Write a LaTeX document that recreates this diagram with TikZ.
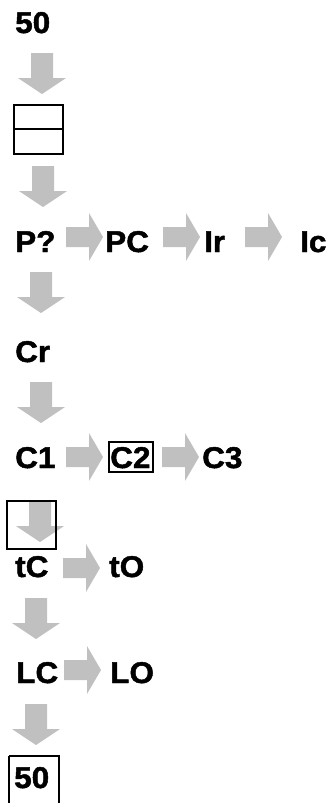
\documentclass[tikz,border=0pt]{standalone}
\usepackage{fontspec}
\setmainfont{Liberation Sans}[BoldFeatures={FakeStretch=1.05,FakeBold=1.6}]
\definecolor{arrowgray}{RGB}{192,192,192}
\tikzset{
  lbl/.style={anchor=base west, inner sep=0pt, font=\fontsize{30}{30}\selectfont\bfseries},
  framebox/.style={draw=black, line width=1.3pt},
  pics/downblock/.style={code={
    \fill[arrowgray] (-11,0) -- (11,0) -- (11,25) -- (24,25) -- (0,41)
      -- (-24,25) -- (-11,25) -- cycle;}},
  pics/rightblock/.style={code={
    \fill[arrowgray] (0,-10) -- (23,-10) -- (23,-24) -- (37,0) -- (23,24)
      -- (23,10) -- (0,10) -- cycle;}},
}
\begin{document}
\begin{tikzpicture}[x=1pt,y=-1pt]
\useasboundingbox (0,0) rectangle (329,803);

% start value
\node[lbl] (top50) at (15,33) {50};
\pic (d1) at (42,53) {downblock};

% two-cell box
\draw[framebox] (14,105) rectangle (63,154);
\draw[framebox] (14,129) -- (63,129);
\pic (d2) at (43,166) {downblock};

% first row
\node[lbl] (pq) at (15,252) {P?};
\pic (r1) at (66,237) {rightblock};
\node[lbl] (pc) at (105,252) {PC};
\pic (r2) at (163,237) {rightblock};
\node[lbl] (ir) at (204,252) {Ir};
\pic (r3) at (245,237) {rightblock};
\node[lbl] (ic) at (300,252) {Ic};
\pic (d3) at (41,272) {downblock};

\node[lbl] (cr) at (15,362) {Cr};
\pic (d4) at (41,382) {downblock};

% C row
\node[lbl] (c1) at (15,468) {C1};
\pic (r4) at (66,457) {rightblock};
\node[lbl] (c2) at (110,468) {C2};
\draw[framebox] (109,442) rectangle (153,472);
\pic (r5) at (162,457) {rightblock};
\node[lbl] (c3) at (202,468) {C3};

% boxed arrow
\pic (d5) at (40,501) {downblock};
\draw[framebox] (7,501) rectangle (56,549);

% t row
\node[lbl] (tc) at (15,577) {tC};
\pic (r6) at (63,568) {rightblock};
\node[lbl] (to) at (109,577) {tO};
\pic (d6) at (36,598) {downblock};

% L row
\node[lbl] (lc) at (16,683) {LC};
\pic (r7) at (64,670) {rightblock};
\node[lbl] (lo) at (110,683) {LO};
\pic (d7) at (36,704) {downblock};

% end value
\node[lbl] (bot50) at (14,788) {50};
\draw[framebox] (9,756) -- (9,803);
\draw[framebox] (9,756) -- (59,756) -- (59,803);
\end{tikzpicture}
\end{document}
